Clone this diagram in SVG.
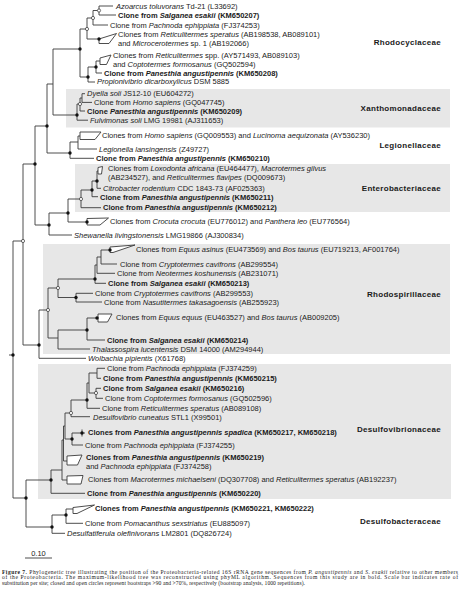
<svg xmlns="http://www.w3.org/2000/svg" width="460" height="595" viewBox="0 0 460 595">
<style>
.t{font-family:"Liberation Sans",Arial,sans-serif;font-size:7.5px;fill:#1a1a1a}
.b{font-weight:bold}
.i{font-style:italic}
.fam{font-family:"Liberation Sans",Arial,sans-serif;font-size:8px;font-weight:bold;letter-spacing:0.3px;fill:#1a1a1a;text-anchor:end}
.cap{font-family:"Liberation Serif","Times New Roman",serif;font-size:5.6px;fill:#222}
.br{fill:none;stroke:#3a3a3a;stroke-width:0.9}
.cl{fill:#fff;stroke:#3a3a3a;stroke-width:0.9;stroke-linejoin:miter}
.box{fill:#e7e7e7}
.fd{fill:#111}
.od{fill:#fff;stroke:#333;stroke-width:0.7}
</style>
<defs>
<circle id="f" r="1.7" class="fd"/>
<circle id="o" r="1.6" class="od"/>
</defs>
<g id="boxes">
<rect class="box" x="66" y="89" width="384" height="38.5"/>
<rect class="box" x="75" y="164" width="375" height="48"/>
<rect class="box" x="43" y="244" width="407" height="110"/>
<rect class="box" x="38" y="364" width="413" height="135"/>
</g>
<g id="connectors">
<path class="br" d="M9 355H13M13 241V498M13 241H23M13 498H26
M23 164V345M23 164H35M23 345H39
M35 126V225M35 126H47M35 225H49
M47 84V153M47 84H53M47 153H70
M53 49V115M53 49H80M53 115H77
M80 29V77M80 29H87M80 77H88
M87 18V39M87 18H93M87 39H99
M93 10.5V25M93 10.5H99M93 25H108
M99 6V15M99 6H113M99 15H116
M88 67V82M88 67H96M88 82H95
M96 61V73M96 61H100M96 73H102
M77 104V120.2M77 104H80M77 120.2H88
M80 98V111M80 98H82M80 111H85
M82 93.7V102.4M82 93.7H85M82 102.4H92
M70 142V158.3M70 142H78M70 158.3H94
M78 136V149M78 136H80M78 149H97
M49 213V235M49 213H68M49 235H72
M68 199V222M68 199H81M68 222H87
M81 190V207.7M81 190H92M81 207.7H101
M92 181V196.7M92 181H97M92 196.7H98
M97 171V188.3M97 171H98M97 188.3H101
M39 310V358.3M39 310H48M39 358.3H86
M48 288V338M48 288H58M48 338H58
M58 279V297.5M58 279H95M58 297.5H76
M95 265V283.3M95 265H97M95 283.3H106
M97 257V273.3M97 257H101M97 273.3H115
M101 250V264M101 250H110M101 264H117
M76 293.3V302M76 293.3H93M76 302H102
M58 330V349M58 330H87M58 349H90
M87 318V340M87 318H97M87 340H105
M26 480V527M26 480H51M26 527H52
M51 470V493.3M51 470H62M51 493.3H85
M62 440V480M62 440H63.5M62 480H67
M63.5 426V461M63.5 426H65M63.5 461H67
M65 413V439M65 413H71M65 439H72
M71 400V416.7M71 400H87M71 416.7H90
M87 383V408.3M87 383H89M87 408.3H100
M89 373V393M89 373H97M89 393H96
M97 368.3V378.3M97 368.3H105M97 378.3H101
M96 388.3V398.3M96 388.3H101M96 398.3H103
M72 433V445M72 433H82M72 445H83
M82 429.5V436.5M82 433H85
M52 515V533.3M52 515H66M52 533.3H65
M66 509V523.3M66 509H73M66 523.3H83
M25 558H52"/>
<g id="collapsed">
<polygon class="cl" points="99,39 116.5,33.5 109,43.5 99,43.5"/>
<polygon class="cl" points="100,58 111,55 106.5,64.5 100,64.5"/>
<polygon class="cl" points="80,132 101,132 95,139.5 80,139.5"/>
<polygon class="cl" points="98,167.5 102.5,166.5 101.5,174 98,174"/>
<polygon class="cl" points="87,218.5 108.5,218 100,225 87,225"/>
<polygon class="cl" points="110,247 135,245 113,252.5 110,252.5"/>
<polygon class="cl" points="98,314 112,314 107.5,322 98,322"/>
<polygon class="cl" points="67,456 82,455 77.5,465 67,465"/>
<polygon class="cl" points="67,476 83,475.5 81,484 67,484"/>
<polygon class="cl" points="73,507.5 94.5,505 77,513.5 73,513.5"/>
</g>
<g id="bootstrap">
<use href="#f" x="13" y="355"/><use href="#o" x="23" y="241"/><use href="#f" x="26" y="498"/>
<use href="#f" x="35" y="164"/><use href="#f" x="39" y="345"/><use href="#f" x="47" y="126"/>
<use href="#f" x="49" y="225"/><use href="#f" x="70" y="153"/><use href="#f" x="80" y="49"/>
<use href="#f" x="77" y="115"/><use href="#o" x="87" y="29"/><use href="#f" x="88" y="77"/>
<use href="#o" x="93" y="18"/><use href="#f" x="99" y="39"/><use href="#o" x="99" y="10.5"/>
<use href="#f" x="96" y="67"/><use href="#o" x="80" y="104"/>
<use href="#f" x="68" y="213"/><use href="#o" x="81" y="199"/><use href="#f" x="87" y="222"/>
<use href="#f" x="92" y="190"/><use href="#f" x="97" y="181"/>
<use href="#o" x="48" y="310"/><use href="#o" x="58" y="288"/><use href="#f" x="95" y="279"/>
<use href="#f" x="76" y="297.5"/><use href="#f" x="110" y="250"/><use href="#f" x="87" y="330"/>
<use href="#f" x="97" y="318"/>
<use href="#f" x="51" y="480"/><use href="#f" x="52" y="527"/><use href="#o" x="71" y="413"/>
<use href="#f" x="72" y="439"/><use href="#f" x="87" y="400"/><use href="#o" x="96" y="393"/>
<use href="#f" x="82" y="433"/><use href="#f" x="66" y="515"/>
</g>
</g>
<g id="leaves">
<g id="n1"><text class="t" x="116" y="8.6"><tspan class="i">Azoarcus toluvorans</tspan> Td-21 (L33692)</text></g>
<g id="n2"><text class="t b" x="118" y="17.6">Clone from <tspan class="i">Salganea esakii</tspan> (KM650207)</text></g>
<g id="n3"><text class="t" x="110" y="27.6">Clone from <tspan class="i">Pachnoda ephippiata</tspan> (FJ374253)</text></g>
<g id="n4"><text class="t" x="118" y="37.3">Clones from <tspan class="i">Reticulitermes speratus</tspan> (AB198538, AB089101)</text>
<text class="t" x="118" y="45.9">and <tspan class="i">Microcerotermes</tspan> sp. 1 (AB192066)</text></g>
<g id="n5"><text class="t" x="113" y="57.6">Clones from <tspan class="i">Reticulitermes</tspan> spp. (AY571493, AB089103)</text>
<text class="t" x="113" y="66.6">and <tspan class="i">Coptotermes formosanus</tspan> (GQ502594)</text></g>
<g id="n6"><text class="t b" x="104" y="75.6">Clone from <tspan class="i">Panesthia angustipennis</tspan> (KM650208)</text></g>
<g id="n7"><text class="t" x="97" y="84.3"><tspan class="i">Propionivibrio dicarboxylicus</tspan> DSM 5885</text></g>
<g id="n8"><text class="t" x="87" y="96.3"><tspan class="i">Dyella soli</tspan> JS12-10 (EU604272)</text></g>
<g id="n9"><text class="t" x="94" y="105">Clone from <tspan class="i">Homo sapiens</tspan> (GQ047745)</text></g>
<g id="n10"><text class="t b" x="87" y="113.6">Clone <tspan class="i">Panesthia angustipennis</tspan> (KM650209)</text></g>
<g id="n11"><text class="t" x="90" y="122.8"><tspan class="i">Fulvimonas soli</tspan> LMG 19981 (AJ311653)</text></g>
<g id="n12"><text class="t" x="102" y="137.9">Clones from <tspan class="i">Homo sapiens</tspan> (GQ009553) and <tspan class="i">Lucinoma aequizonata</tspan> (AY536230)</text></g>
<g id="n13"><text class="t" x="99" y="151.6"><tspan class="i">Legionella lansingensis</tspan> (Z49727)</text></g>
<g id="n14"><text class="t b" x="96" y="160.9">Clone from <tspan class="i">Panesthia angustipennis</tspan> (KM650210)</text></g>
<g id="n15"><text class="t" x="108" y="171.4">Clones from <tspan class="i">Loxodonta africana</tspan> (EU464477), <tspan class="i">Macrotermes gilvus</tspan></text>
<text class="t" x="108" y="180">(AB234527), and <tspan class="i">Reticulitermes flavipes</tspan> (DQ009673)</text></g>
<g id="n16"><text class="t" x="103" y="190.9"><tspan class="i">Citrobacter rodentium</tspan> CDC 1843-73 (AF025363)</text></g>
<g id="n17"><text class="t b" x="100" y="199.5">Clone from <tspan class="i">Panesthia angustipennis</tspan> (KM650211)</text></g>
<g id="n18"><text class="t b" x="103" y="210.3">Clone from <tspan class="i">Panesthia angustipennis</tspan> (KM650212)</text></g>
<g id="n19"><text class="t" x="110" y="224.3">Clones from <tspan class="i">Crocuta crocuta</tspan> (EU776012) and <tspan class="i">Panthera leo</tspan> (EU776564)</text></g>
<g id="n20"><text class="t" x="74" y="237.6"><tspan class="i">Shewanella livingstonensis</tspan> LMG19866 (AJ300834)</text></g>
<g id="n21"><text class="t" x="136" y="251.9">Clones from <tspan class="i">Equus asinus</tspan> (EU473569) and <tspan class="i">Bos taurus</tspan> (EU719213, AF001764)</text></g>
<g id="n22"><text class="t" x="120" y="266.6">Clone from <tspan class="i">Cryptotermes cavifrons</tspan> (AB299554)</text></g>
<g id="n23"><text class="t" x="117" y="275.9">Clone from <tspan class="i">Neotermes koshunensis</tspan> (AB231071)</text></g>
<g id="n24"><text class="t b" x="108" y="285.9">Clone from <tspan class="i">Salganea esakii</tspan> (KM650213)</text></g>
<g id="n25"><text class="t" x="95" y="295.9">Clone from <tspan class="i">Cryptotermes cavifrons</tspan> (AB299553)</text></g>
<g id="n26"><text class="t" x="104" y="304.6">Clone from <tspan class="i">Nasutitermes takasagoensis</tspan> (AB255923)</text></g>
<g id="n27"><text class="t" x="116" y="320.3">Clones from <tspan class="i">Equus equus</tspan> (EU463527) and <tspan class="i">Bos taurus</tspan> (AB009205)</text></g>
<g id="n28"><text class="t b" x="107" y="342.6">Clone from <tspan class="i">Salganea esakii</tspan> (KM650214)</text></g>
<g id="n29"><text class="t" x="92" y="351.6"><tspan class="i">Thalassospira lucentensis</tspan> DSM 14000 (AM294944)</text></g>
<g id="n30"><text class="t" x="88" y="360.9"><tspan class="i">Wolbachia pipientis</tspan> (X61768)</text></g>
<g id="n31"><text class="t" x="107" y="370.9">Clone from <tspan class="i">Pachnoda ephippiata</tspan> (FJ374259)</text></g>
<g id="n32"><text class="t b" x="103" y="380.9">Clone from <tspan class="i">Panesthia angustipennis</tspan> (KM650215)</text></g>
<g id="n33"><text class="t b" x="103" y="390.9">Clone from <tspan class="i">Salganea esakii</tspan> (KM650216)</text></g>
<g id="n34"><text class="t" x="105" y="400.9">Clone from <tspan class="i">Coptotermes formosanus</tspan> (GQ502596)</text></g>
<g id="n35"><text class="t" x="102" y="410.9">Clone from <tspan class="i">Reticulitermes speratus</tspan> (AB089108)</text></g>
<g id="n36"><text class="t" x="93" y="419.5"><tspan class="i">Desulfovibrio cuneatus</tspan> STL1 (X99501)</text></g>
<g id="n37"><text class="t b" x="88" y="435.3">Clones from <tspan class="i">Panesthia angustipennis spadica</tspan>  (KM650217, KM650218)</text></g>
<g id="n38"><text class="t" x="85" y="447.6">Clone from <tspan class="i">Pachnoda ephippiata</tspan> (FJ374255)</text></g>
<g id="n39"><text class="t b" x="86" y="459.9">Clones from <tspan class="i">Panesthia angustipennis</tspan>  (KM650219)</text>
<text class="t" x="86" y="469.3">and  <tspan class="i">Pachnoda ephippiata</tspan> (FJ374258)</text></g>
<g id="n40"><text class="t" x="88" y="481.6">Clones from <tspan class="i">Macrotermes michaelseni</tspan> (DQ307708) and  <tspan class="i">Reticulitermes speratus</tspan> (AB192237)</text></g>
<g id="n41"><text class="t b" x="87" y="495.9">Clone from <tspan class="i">Panesthia angustipennis</tspan> (KM650220)</text></g>
<g id="n42"><text class="t b" x="95" y="510.9">Clones from <tspan class="i">Panesthia angustipennis</tspan> (KM650221, KM650222)</text></g>
<g id="n43"><text class="t" x="85" y="525.9">Clone from <tspan class="i">Pomacanthus sexstriatus</tspan> (EU885097)</text></g>
<g id="n44"><text class="t" x="67" y="535.9"><tspan class="i">Desulfatiferula olefinivorans</tspan> LM2801 (DQ826724)</text></g>
</g>
<g id="families">
<text class="fam" x="441" y="44.9">Rhodocyclaceae</text>
<text class="fam" x="441" y="110.9">Xanthomonadaceae</text>
<text class="fam" x="441" y="147.9">Legionellaceae</text>
<text class="fam" x="441" y="190.9">Enterobacteriaceae</text>
<text class="fam" x="441" y="297.2">Rhodospirillaceae</text>
<text class="fam" x="441" y="431.9">Desulfovibrionaceae</text>
<text class="fam" x="441" y="523.9">Desulfobacteraceae</text>
</g>
<g id="scale"><text class="t" x="38.5" y="555.8" text-anchor="middle">0.10</text></g>
<g id="caption">
<text class="cap" x="2" y="573.5" textLength="456" lengthAdjust="spacing"><tspan font-weight="bold">Figure 7.</tspan> Phylogenetic tree illustrating the position of the Proteobacteria-related 16S rRNA gene sequences from <tspan font-style="italic">P. angustipennis</tspan> and <tspan font-style="italic">S. esakii</tspan> relative to other members</text>
<text class="cap" x="2" y="579.3" textLength="456" lengthAdjust="spacing">of the Proteobacteria. The maximum-likelihood tree was reconstructed using phyML algorithm. Sequences from this study are in bold. Scale bar indicates rate of</text>
<text class="cap" x="2" y="585.1" textLength="303" lengthAdjust="spacing">substitution per site; closed and open circles represent bootstraps &gt;90 and &gt;70%, respectively (bootstrap analysis, 1000 repetitions).</text>
</g>
</svg>
